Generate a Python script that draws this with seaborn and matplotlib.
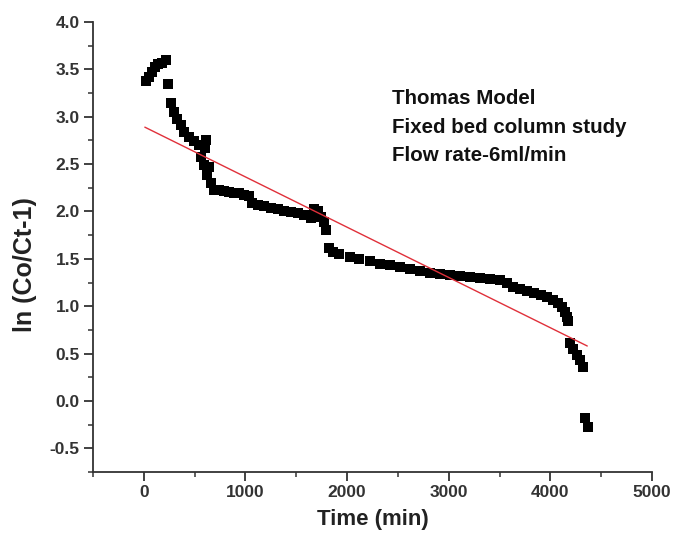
import matplotlib
matplotlib.use("Agg")
import matplotlib.pyplot as plt
import seaborn as sns
import pandas as pd
from matplotlib.ticker import MultipleLocator
from matplotlib import font_manager

# ---- data ----
time_min = [20, 50, 80, 110, 140, 178, 217, 240, 263, 296, 329, 362, 395, 444, 494, 543,
            602, 609, 560, 592, 625, 642, 658, 691,
            740, 790, 839, 888, 938, 987, 1037, 1069, 1119, 1185, 1251, 1316, 1382, 1448,
            1514, 1580, 1645, 1678, 1711, 1744, 1777, 1793, 1826, 1859,
            1925, 2024, 2122, 2221, 2320, 2419, 2517, 2616, 2715, 2813,
            2912, 3011, 3110, 3208, 3307, 3406, 3504, 3574, 3633, 3702, 3771, 3840,
            3909, 3968, 4028, 4077, 4116, 4146, 4166, 4176,
            4195, 4225, 4265, 4294, 4324, 4344, 4373]
ln_ratio = [3.38, 3.42, 3.47, 3.52, 3.56, 3.57, 3.60, 3.35, 3.14, 3.05, 2.98, 2.91, 2.84, 2.79, 2.74, 2.70,
            2.67, 2.75, 2.58, 2.49, 2.38, 2.47, 2.30, 2.23,
            2.23, 2.22, 2.21, 2.20, 2.19, 2.17, 2.16, 2.09, 2.07, 2.06, 2.04, 2.03, 2.01, 1.99,
            1.98, 1.96, 1.93, 2.03, 2.00, 1.94, 1.89, 1.80, 1.61, 1.57,
            1.55, 1.52, 1.50, 1.48, 1.45, 1.43, 1.41, 1.39, 1.37, 1.35,
            1.34, 1.33, 1.32, 1.31, 1.30, 1.29, 1.28, 1.24, 1.20, 1.18, 1.16, 1.14,
            1.12, 1.10, 1.07, 1.03, 0.99, 0.94, 0.89, 0.84,
            0.61, 0.55, 0.48, 0.43, 0.36, -0.18, -0.27]

fit_time = [10, 4363]
fit_value = [2.89, 0.58]

annotation_lines = ["Thomas Model", "Fixed bed column study", "Flow rate-6ml/min"]
x_label = "Time (min)"
y_label = "ln (Co/Ct-1)"

# ---- style ----
sns.set_style("ticks")
names = {f.name for f in font_manager.fontManager.ttflist}
base_font = "Liberation Sans" if "Liberation Sans" in names else "DejaVu Sans"
plt.rcParams["font.family"] = [base_font, "DejaVu Sans"]
plt.rcParams["axes.unicode_minus"] = False

fig = plt.figure(figsize=(6.74, 5.44), dpi=100)
fig.patch.set_facecolor("white")
ax = fig.add_axes([93 / 674, 1 - 472 / 544, (652 - 93) / 674, (472 - 22) / 544])
ax.set_facecolor("white")

df = pd.DataFrame({"t": time_min, "v": ln_ratio})
sns.scatterplot(data=df, x="t", y="v", marker="s", s=50, color="black",
                linewidth=0, ax=ax, zorder=2)
sns.lineplot(x=fit_time, y=fit_value, color="#e0303a", linewidth=1.0, ax=ax, zorder=3)

ax.set_xlim(-500, 5000)
ax.set_ylim(-0.75, 4.0)
ax.xaxis.set_major_locator(MultipleLocator(1000))
ax.xaxis.set_minor_locator(MultipleLocator(500))
ax.yaxis.set_major_locator(MultipleLocator(0.5))
ax.yaxis.set_minor_locator(MultipleLocator(0.25))
ax.set_xticks([0, 1000, 2000, 3000, 4000, 5000])
ax.set_yticks([-0.5, 0.0, 0.5, 1.0, 1.5, 2.0, 2.5, 3.0, 3.5, 4.0])

for s in ["top", "right"]:
    ax.spines[s].set_visible(False)
for s in ["left", "bottom"]:
    ax.spines[s].set_linewidth(1.3)
    ax.spines[s].set_color("#333333")

ax.tick_params(axis="both", which="major", direction="out", length=6.5, width=1.3,
               color="#333333", labelsize=12.5, labelcolor="#333333", pad=3)
ax.tick_params(axis="both", which="minor", direction="out", length=3.5, width=1.1,
               color="#333333")
for lab in ax.get_xticklabels() + ax.get_yticklabels():
    lab.set_fontweight("bold")

ax.set_xlabel(x_label, fontsize=16, fontweight="bold", color="#222222", labelpad=6)
ax.set_ylabel(y_label, fontsize=18, fontweight="bold", color="#222222")
ax.yaxis.set_label_coords(-0.100, 0.462)

ann_y = [3.19, 2.89, 2.59]
for txt, yv in zip(annotation_lines, ann_y):
    ax.text(2440, yv, txt, fontsize=14.8, fontweight="bold", color="#111111",
            ha="left", va="center")

ax.grid(False)
fig.savefig("out.png", dpi=100, facecolor="white")
